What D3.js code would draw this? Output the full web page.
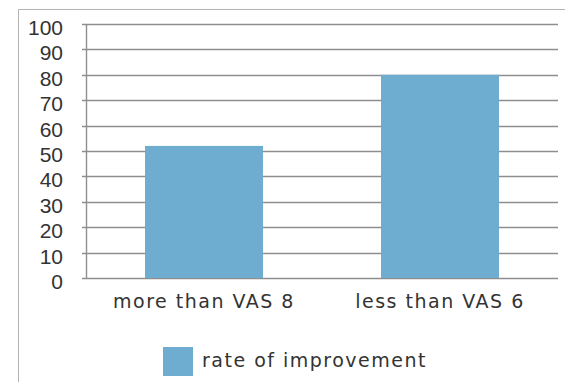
<!DOCTYPE html>
<html>
<head>
<meta charset="utf-8">
<script src="https://cdn.jsdelivr.net/npm/d3@7"></script>
<style>
  body { margin: 0; background: #fff; }
  svg { display: block; }
</style>
</head>
<body>
<div id="chart"></div>
<script>
// chart values
var categories = ['more than VAS 8', 'less than VAS 6'];
var improvement = [52, 80];
var yTicks = [0, 10, 20, 30, 40, 50, 60, 70, 80, 90, 100];
var seriesName = 'rate of improvement';

const width = 565;
const height = 382;
const margin = { top: 24, right: 7, bottom: 104, left: 86 };
const barColor = '#6fadd0';

const svg = d3.select('#chart').append('svg')
  .attr('width', width).attr('height', height);

// frame (top + left only)
svg.append('path')
  .attr('d', 'M18.5,' + height + 'V9.5H' + width)
  .attr('fill', 'none')
  .attr('stroke', '#b4b4b4')
  .attr('stroke-width', 1);

const x = d3.scaleBand().domain(categories)
  .range([margin.left, width - margin.right])
  .paddingInner(0.5).paddingOuter(0.25);
const y = d3.scaleLinear().domain([0, 100])
  .range([height - margin.bottom, margin.top]);

// gridlines
svg.append('g').selectAll('line').data(yTicks).join('line')
  .attr('x1', margin.left - 4).attr('x2', width - margin.right)
  .attr('y1', d => Math.round(y(d)) + 0.5).attr('y2', d => Math.round(y(d)) + 0.5)
  .attr('stroke', '#8e8e8e').attr('stroke-width', 1.4);

// y axis line
svg.append('line')
  .attr('x1', margin.left + 0.5).attr('x2', margin.left + 0.5)
  .attr('y1', y(100)).attr('y2', y(0) + 1)
  .attr('stroke', '#8e8e8e').attr('stroke-width', 1.4);

// y tick labels
svg.append('g').selectAll('text').data(yTicks).join('text')
  .attr('x', 63).attr('y', d => y(d) + 11)
  .attr('text-anchor', 'end')
  .style('font-family', '"Liberation Sans", Arial, sans-serif')
  .style('font-size', '21px')
  .style('fill', '#333')
  .text(d => d);

// bars
svg.append('g').selectAll('rect').data(improvement).join('rect')
  .attr('x', (d, i) => x(categories[i]))
  .attr('width', x.bandwidth())
  .attr('y', d => y(d))
  .attr('height', d => y(0) - y(d))
  .attr('fill', barColor);

// category labels
svg.append('g').selectAll('text').data(categories).join('text')
  .attr('x', d => x(d) + x.bandwidth() / 2)
  .attr('y', 308)
  .attr('text-anchor', 'middle')
  .style('font-family', '"DejaVu Sans", sans-serif')
  .style('font-size', '19px')
  .style('letter-spacing', '1.5px')
  .style('fill', '#333')
  .text(d => d);

// legend
const legend = svg.append('g').attr('transform', 'translate(163,347)');
legend.append('rect')
  .attr('width', 30).attr('height', 29)
  .attr('fill', barColor);
legend.append('text')
  .attr('x', 39).attr('y', 20)
  .style('font-family', '"DejaVu Sans", sans-serif')
  .style('font-size', '19px')
  .style('letter-spacing', '1.5px')
  .style('fill', '#333')
  .text(seriesName);
</script>
</body>
</html>
